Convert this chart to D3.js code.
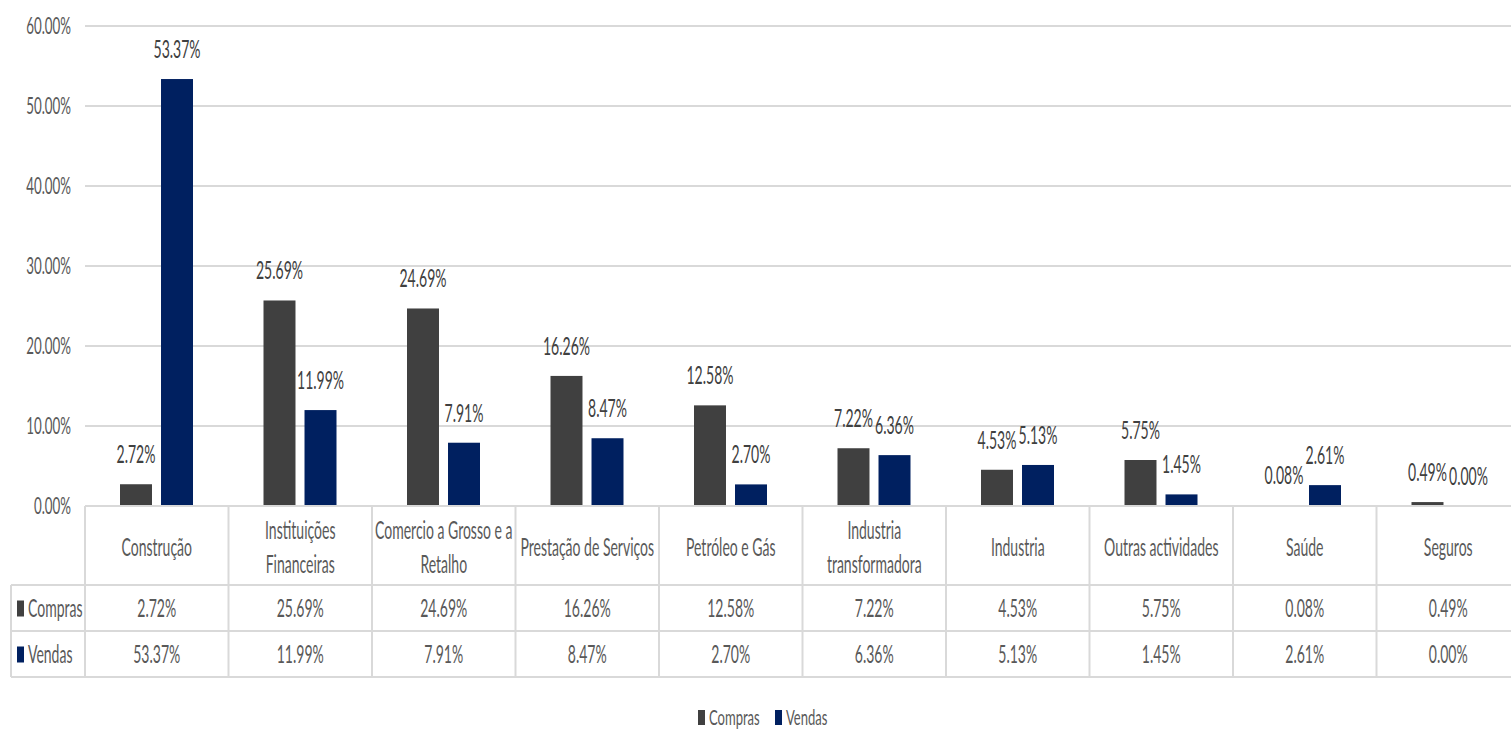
<!DOCTYPE html>
<html>
<head>
<meta charset="utf-8">
<script src="https://cdn.jsdelivr.net/npm/d3@7"></script>
<style>
  html, body { margin: 0; padding: 0; background: #fff; }
  svg { display: block; }
  text { font-family: Lato, "Open Sans", sans-serif; font-weight: 400; }
</style>
</head>
<body>
<svg id="chart" width="1511" height="730"></svg>
<script>
// Sector shares of purchases (Compras) and sales (Vendas)
const categories = [
  "Construção", "Instituições Financeiras", "Comercio a Grosso e a Retalho",
  "Prestação de Serviços", "Petróleo e Gás", "Industria transformadora",
  "Industria", "Outras actividades", "Saúde", "Seguros"
];
const categoryLines = [
  ["Construção"], ["Instituições", "Financeiras"], ["Comercio a Grosso e a", "Retalho"],
  ["Prestação de Serviços"], ["Petróleo e Gás"], ["Industria", "transformadora"],
  ["Industria"], ["Outras actividades"], ["Saúde"], ["Seguros"]
];
const seriesNames = ["Compras", "Vendas"];
const compras = [2.72, 25.69, 24.69, 16.26, 12.58, 7.22, 4.53, 5.75, 0.08, 0.49];
const vendas  = [53.37, 11.99, 7.91, 8.47, 2.70, 6.36, 5.13, 1.45, 2.61, 0.00];
const yTicks = [0, 10, 20, 30, 40, 50, 60];

const colors = { Compras: "#404040", Vendas: "#002060" };
const seriesValues = { Compras: compras, Vendas: vendas };
const fmt = v => v.toFixed(2) + "%";

const svg = d3.select("#chart");
// narrow type: regular size for labels/table, smaller for axis & legend
const BIG = { size: 25, sx: 0.56 };
const MID = { size: 23, sx: 0.58 };
const SMALL = { size: 21, sx: 0.62 };

const plot = { left: 85, right: 1520, top: 26, bottom: 506 };
const tableLeft = 11;
const rows = { header: [506, 585], compras: [585, 631], vendas: [631, 677] };

const x0 = d3.scaleBand().domain(categories).range([plot.left, plot.right]).paddingInner(0).paddingOuter(0);
const x1 = d3.scaleBand().domain(seriesNames).range([35, 108]).paddingInner(0.22);
const y = d3.scaleLinear().domain([0, 60]).range([plot.bottom, plot.top]);

function label(parent, x, yb, str, anchor, fill, st) {
  parent.append("text")
    .attr("transform", `translate(${x},${yb}) scale(${st.sx},1)`)
    .attr("text-anchor", anchor)
    .attr("fill", fill)
    .attr("font-size", st.size)
    .text(str);
}

// gridlines
const grid = svg.append("g");
grid.selectAll("line").data(yTicks.filter(t => t > 0)).join("line")
  .attr("x1", plot.left).attr("x2", 1511)
  .attr("y1", d => y(d)).attr("y2", d => y(d))
  .attr("stroke", "#d9d9d9").attr("stroke-width", 2);

// y tick labels
const yAxis = svg.append("g");
yTicks.forEach(t => label(yAxis, 71, y(t) + 8, t.toFixed(2) + "%", "end", "#595959", MID));

// bars
const bars = svg.append("g");
categories.forEach((c, i) => {
  seriesNames.forEach(s => {
    const v = seriesValues[s][i];
    bars.append("rect")
      .attr("x", x0(c) + x1(s))
      .attr("y", y(v))
      .attr("width", x1.bandwidth())
      .attr("height", y(0) - y(v))
      .attr("fill", colors[s]);
  });
});

// data labels
const dl = svg.append("g");
categories.forEach((c, i) => {
  seriesNames.forEach(s => {
    const v = seriesValues[s][i];
    label(dl, x0(c) + x1(s) + x1.bandwidth() / 2, y(v) - 21, fmt(v), "middle", "#404040", BIG);
  });
});

// data table
const tbl = svg.append("g");
const border = "#d9d9d9";
function hline(x1v, x2v, yv) {
  tbl.append("line").attr("x1", x1v).attr("x2", x2v).attr("y1", yv).attr("y2", yv)
    .attr("stroke", border).attr("stroke-width", 2);
}
function vline(xv, y1v, y2v) {
  tbl.append("line").attr("x1", xv).attr("x2", xv).attr("y1", y1v).attr("y2", y2v)
    .attr("stroke", border).attr("stroke-width", 2);
}
hline(plot.left, plot.right, rows.header[0]);
hline(tableLeft, plot.right, rows.compras[0]);
hline(tableLeft, plot.right, rows.vendas[0]);
hline(tableLeft, plot.right, rows.vendas[1]);
vline(tableLeft, rows.compras[0], rows.vendas[1]);
vline(plot.left, rows.header[0], rows.vendas[1]);
categories.forEach((c, i) => { if (i > 0) vline(x0(c), rows.header[0], rows.vendas[1]); });

// category headers
categories.forEach((c, i) => {
  const lines = categoryLines[i];
  const cx = x0(c) + x0.bandwidth() / 2;
  const mid = (rows.header[0] + rows.header[1]) / 2 + 10;
  lines.forEach((ln, k) => {
    label(tbl, cx, mid + (k - (lines.length - 1) / 2) * 34, ln, "middle", "#595959", BIG);
  });
});

// value rows
seriesNames.forEach(s => {
  const r = s === "Compras" ? rows.compras : rows.vendas;
  const yb = (r[0] + r[1]) / 2 + 8.5;
  tbl.append("rect").attr("x", 17).attr("y", yb - 16).attr("width", 7).attr("height", 16).attr("fill", colors[s]);
  label(tbl, 28, yb, s, "start", "#595959", BIG);
  categories.forEach((c, i) => {
    label(tbl, x0(c) + x0.bandwidth() / 2, yb, fmt(seriesValues[s][i]), "middle", "#595959", BIG);
  });
});

// legend
const lg = svg.append("g");
const legendX = { Compras: 698, Vendas: 775 };
seriesNames.forEach(s => {
  lg.append("rect").attr("x", legendX[s]).attr("y", 710).attr("width", 7).attr("height", 15).attr("fill", colors[s]);
  label(lg, legendX[s] + 11, 725, s, "start", "#595959", SMALL);
});
</script>
</body>
</html>
